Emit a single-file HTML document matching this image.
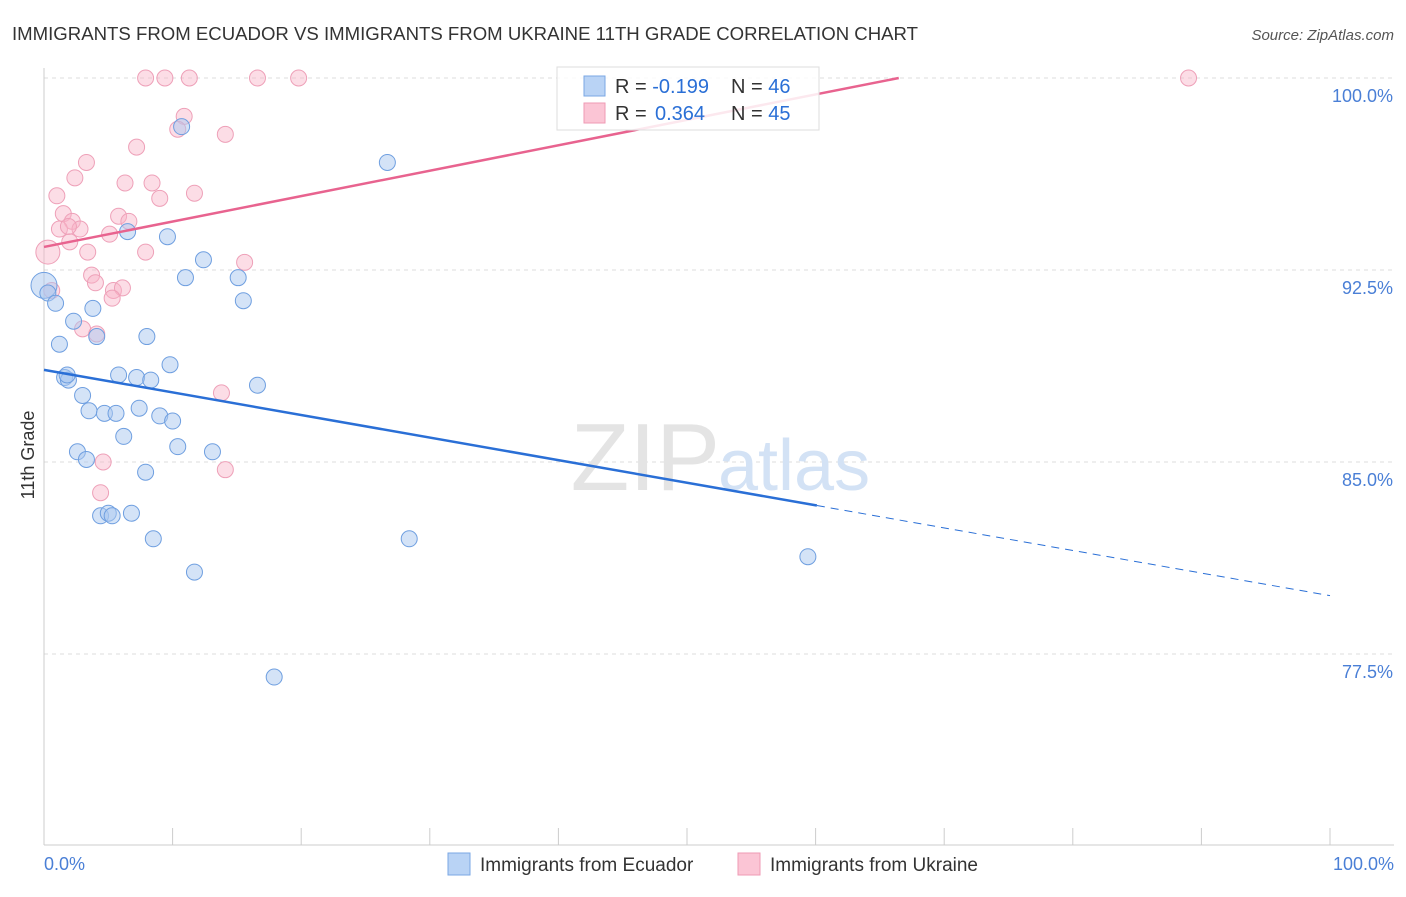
<!DOCTYPE html>
<html><head><meta charset="utf-8"><style>
body{margin:0;background:#fff;font-family:"Liberation Sans",sans-serif;}
svg text{font-family:"Liberation Sans",sans-serif;}
</style></head><body>
<svg id="c" width="1406" height="892">
<text x="12" y="40" font-size="18.6" fill="#333">IMMIGRANTS FROM ECUADOR VS IMMIGRANTS FROM UKRAINE 11TH GRADE CORRELATION CHART</text>
<text x="1394" y="40" font-size="15" fill="#555" font-style="italic" text-anchor="end">Source: ZipAtlas.com</text>
<text x="34" y="455" font-size="18" fill="#333" transform="rotate(-90 34 455)" text-anchor="middle">11th Grade</text>
<g id="grid"></g>
<text x="720" y="490" font-size="96" fill="#e4e4e4" text-anchor="end" font-family="Liberation Serif">ZIP</text>
<text x="718" y="490" font-size="72" fill="#d3e2f5">atlas</text>
<g id="pts"></g><g id="lines"></g>
<g>
<rect x="557" y="67" width="262" height="63" fill="rgba(255,255,255,0.85)" stroke="#ddd"/>
<rect x="584" y="76" width="21" height="20" fill="#b9d3f5" stroke="#7aa7e4"/>
<rect x="584" y="103" width="21" height="20" fill="#fbc5d5" stroke="#ef9ab4"/>
<text x="615" y="93" font-size="20" fill="#333">R = <tspan fill="#2a6fd6">-0.199</tspan><tspan x="731">N = </tspan><tspan fill="#2a6fd6">46</tspan></text>
<text x="615" y="120" font-size="20" fill="#333">R = <tspan fill="#2a6fd6" x="655">0.364</tspan><tspan x="731">N = </tspan><tspan fill="#2a6fd6">45</tspan></text>
</g>
<g>
<rect x="448" y="853" width="22" height="22" fill="#b9d3f5" stroke="#7aa7e4"/>
<text x="480" y="871" font-size="19" fill="#333">Immigrants from Ecuador</text>
<rect x="738" y="853" width="22" height="22" fill="#fbc5d5" stroke="#ef9ab4"/>
<text x="770" y="871" font-size="19" fill="#333">Immigrants from Ukraine</text>
</g>
</svg>
<script>
const yTicks=[100,92.5,85,77.5];
const yTickLabels=["100.0%","92.5%","85.0%","77.5%"];
const xTickLabels=["0.0%","100.0%"];
const ecuadorX=[0.0,0.3,0.9,1.2,2.3,3.8,4.1,1.6,1.9,1.8,3.0,3.5,4.7,5.6,6.2,2.6,3.3,4.4,5.0,5.3,6.8,8.5,7.9,7.4,9.0,10.0,10.4,13.1,5.8,7.2,8.3,9.8,8.0,6.5,9.6,11.0,12.4,15.1,15.5,16.6,10.7,26.7,28.4,11.7,17.9,59.4];
const ecuadorY=[91.9,91.6,91.2,89.6,90.5,91.0,89.9,88.3,88.2,88.4,87.6,87.0,86.9,86.9,86.0,85.4,85.1,82.9,83.0,82.9,83.0,82.0,84.6,87.1,86.8,86.6,85.6,85.4,88.4,88.3,88.2,88.8,89.9,94.0,93.8,92.2,92.9,92.2,91.3,88.0,98.1,96.7,82.0,80.7,76.6,81.3];
const ukraineX=[7.9,9.4,11.3,16.6,19.8,89.0,10.9,10.4,14.1,7.2,3.3,2.4,1.0,6.3,8.4,11.7,9.0,1.5,5.8,2.2,2.8,1.2,1.9,6.6,5.1,2.0,7.9,3.4,0.3,15.6,3.7,4.0,5.4,6.1,5.3,0.6,3.0,4.1,13.8,4.6,14.1,4.4];
const ukraineY=[100,100,100,100,100,100,98.5,98.0,97.8,97.3,96.7,96.1,95.4,95.9,95.9,95.5,95.3,94.7,94.6,94.4,94.1,94.1,94.2,94.4,93.9,93.6,93.2,93.2,93.2,92.8,92.3,92.0,91.7,91.8,91.4,91.7,90.2,90.0,87.7,85.0,84.7,83.8];
const blueLine=[88.6,-0.0882];
const pinkLine=[93.4,0.0993];
const X=v=>44+v*12.86, Y=v=>78+(100-v)*25.6;
const NS="http://www.w3.org/2000/svg";
function mk(t,a,p){const e=document.createElementNS(NS,t);for(const k in a)e.setAttribute(k,a[k]);p.appendChild(e);return e;}
const g=document.getElementById('grid');
yTicks.forEach((t,i)=>{
 const l=mk('line',{x1:44,x2:1394,y1:Y(t),y2:Y(t),stroke:'#ddd','stroke-dasharray':'4,4'},g);
 
 
 const tx=mk('text',{x:1393,y:Y(t)+24,'font-size':18,fill:'#4a7fd6','text-anchor':'end'},g);tx.textContent=yTickLabels[i];
 
 
});
const ax=mk('line',{x1:44,x2:44,y1:68,y2:845,stroke:'#ccc'},g);


const bx=mk('line',{x1:44,x2:1394,y1:845,y2:845,stroke:'#ccc'},g);


for(let i=0;i<=10;i++){const t=mk('line',{x1:X(i*10),x2:X(i*10),y1:828,y2:845,stroke:'#ccc'},g);
 
 }
[[0,'start',44],[1,'end',1394]].forEach(([i,a,x])=>{const t=mk('text',{x:x,y:870,'font-size':18,fill:'#4a7fd6','text-anchor':a},g);t.textContent=xTickLabels[i];
 
 });
const p=document.getElementById('pts');
ukraineX.forEach((x,i)=>{const c=mk('circle',{cx:X(x),cy:Y(ukraineY[i]),r:i==28?12:8,fill:'rgba(248,180,200,0.45)',stroke:'#eea0b8','stroke-width':1},p);
 
 });
ecuadorX.forEach((x,i)=>{const c=mk('circle',{cx:X(x),cy:Y(ecuadorY[i]),r:i==0?13:8,fill:'rgba(170,200,240,0.5)',stroke:'#6f9fe0','stroke-width':1},p);
 
 });
const L=document.getElementById('lines');
const b1=mk('line',{x1:X(0),y1:Y(blueLine[0]),x2:X(60.1),y2:Y(blueLine[0]+blueLine[1]*60.1),stroke:'#2a6fd6','stroke-width':2.5},L);


const b2=mk('line',{x1:X(60.1),y1:Y(blueLine[0]+blueLine[1]*60.1),x2:X(100),y2:Y(blueLine[0]+blueLine[1]*100),stroke:'#2a6fd6','stroke-width':1,'stroke-dasharray':'8,6'},L);


const xe=(100-pinkLine[0])/pinkLine[1];
const p1=mk('line',{x1:X(0),y1:Y(pinkLine[0]),x2:X(xe),y2:Y(100),stroke:'#e8638f','stroke-width':2.5},L);


</script>
</body></html>
